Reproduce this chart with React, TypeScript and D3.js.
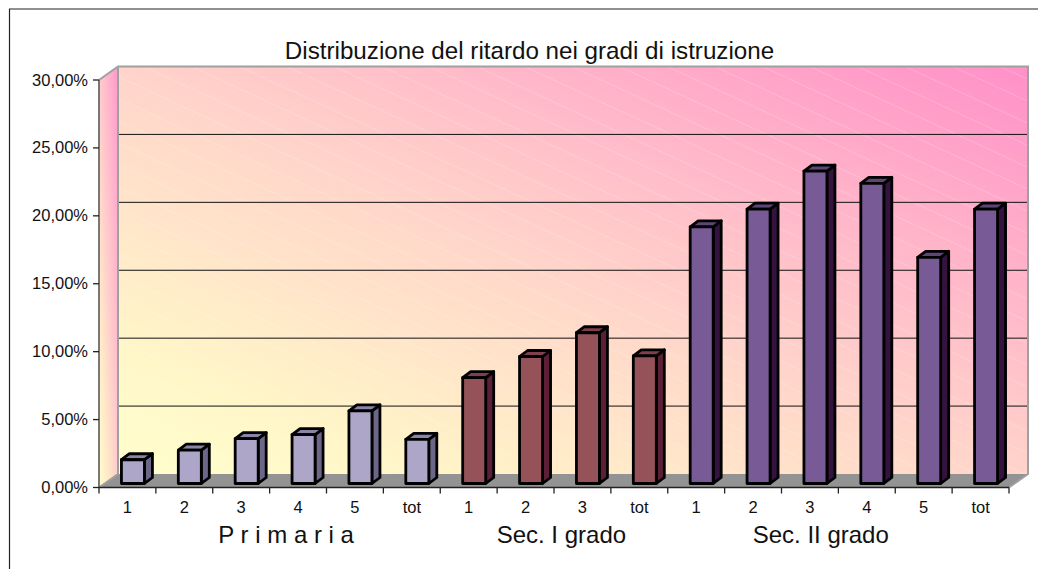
import React from "react";
import * as d3 from "d3";

const categories = ["1","2","3","4","5","tot","1","2","3","tot","1","2","3","4","5","tot"];
const groupIndex = [0,0,0,0,0,0,1,1,1,1,2,2,2,2,2,2];
const values = [1.75,2.45,3.3,3.6,5.35,3.25,7.8,9.35,11.1,9.4,18.9,20.2,23,22.1,16.65,20.2];
const yTicks = [0,5,10,15,20,25,30];
const groupNames = ["P r i m a r i a","Sec. I grado","Sec. II grado"];
const groupCenters = [3.29, 8.13, 12.69];
const title = "Distribuzione del ritardo nei gradi di istruzione";
const frontColors = ["#ADA6C9","#955259","#785A96"];
const topColors = ["#8A84A8","#7F3F4D","#5F4478"];
const sideColors = ["#6C6688","#5C1F36","#35133F"];

const FONT = "'Liberation Sans', Arial, sans-serif";
const left = 99, right = 1009, bottom = 487.5, top = 80;
const dx = 19, dy = 13.5;

const x = d3.scaleBand<number>().domain(d3.range(categories.length)).range([left, right]);
const y = d3.scaleLinear().domain([0, 30]).range([bottom, top]);
const hatch = d3.range(-40, 60).map(i => i * 22);

export default function App() {
  const bw = 23, bdx = 8, bdy = 6;
  const base = y(0) - 4;
  const h = (v: number) => y(0) - y(v);
  const line = d3.line<[number, number]>();
  const wall = { x0: left + dx, x1: right + dx, y0: top - dy, y1: bottom - dy };
  return (
    <svg width={1038} height={569} style={{ position: "absolute", left: 0, top: 0, background: "#fff" }} fontFamily={FONT}>
      <defs>
        <linearGradient id="wallG" x1="0" y1="1" x2="1" y2="0">
          <stop offset="0" stopColor="#FFFFCC" />
          <stop offset="0.16" stopColor="#FFF6C8" />
          <stop offset="0.48" stopColor="#FFD6CA" />
          <stop offset="1" stopColor="#FF90C8" />
        </linearGradient>
        <linearGradient id="sideG" x1="0" y1="1" x2="1" y2="0">
          <stop offset="0" stopColor="#FFFFCC" />
          <stop offset="0.25" stopColor="#FFE8C8" />
          <stop offset="0.5" stopColor="#FFCCCC" />
          <stop offset="1" stopColor="#FF98CB" />
        </linearGradient>
        <clipPath id="wallClip"><rect x={wall.x0} y={wall.y0} width={wall.x1 - wall.x0} height={wall.y1 - wall.y0} /></clipPath>
      </defs>

      <path d={line([[9.5, 569], [9.5, 9], [1038, 9]]) ?? ""} fill="none" stroke="#222" strokeWidth={1.2} />

      <text x={529.5} y={59} textAnchor="middle" fontSize={24.2} fill="#111">{title}</text>

      {/* back wall */}
      <rect x={wall.x0} y={wall.y0} width={wall.x1 - wall.x0} height={wall.y1 - wall.y0} fill="url(#wallG)" />
      <g clipPath="url(#wallClip)" stroke="#fff" strokeOpacity={0.2} strokeWidth={1}>
        {hatch.map(o => <line key={o} x1={0} y1={o} x2={1038} y2={o + 480} />)}
      </g>
      {/* side wall */}
      <path d={line([[left, top], [wall.x0, wall.y0], [wall.x0, wall.y1], [left, bottom]]) + "Z"} fill="url(#sideG)" />
      {/* floor */}
      <path d={line([[left, bottom], [wall.x0, wall.y1], [wall.x1, wall.y1], [right, bottom]]) + "Z"} fill="#939393" />
      {/* wall outline */}
      <path d={line([[left, top], [wall.x0, wall.y0], [wall.x1, wall.y0], [wall.x1, wall.y1], [right, bottom]]) ?? ""} fill="none" stroke="#A0A0A0" strokeWidth={2} />
      <path d={line([[wall.x0, wall.y0], [wall.x0, wall.y1], [left, bottom]]) ?? ""} fill="none" stroke="#A0A0A0" strokeWidth={2} />
      <line x1={left} x2={left} y1={top} y2={bottom} stroke="#6a6a6a" strokeWidth={1.8} />

      {/* gridlines */}
      {yTicks.slice(1, -1).map(t => (
        <line key={t} x1={wall.x0 + 1} x2={wall.x1 - 1} y1={y(t) - dy} y2={y(t) - dy} stroke="#111" strokeWidth={1} />
      ))}

      {/* axes */}
      {yTicks.map(t => (
        <g key={t}>
          <line x1={left - 6} x2={left} y1={y(t)} y2={y(t)} stroke="#222" strokeWidth={1.3} />
          <text x={left - 11} y={y(t) + 5.5} textAnchor="end" fontSize={16.5} fill="#111">{t.toFixed(2).replace(".", ",") + "%"}</text>
        </g>
      ))}
      <line x1={left} x2={right} y1={bottom} y2={bottom} stroke="#222" strokeWidth={1.3} />
      {d3.range(categories.length + 1).map(i => {
        const tx = i === categories.length ? right : (x(i) as number);
        return <line key={i} x1={tx} x2={tx} y1={bottom} y2={bottom + 6} stroke="#222" strokeWidth={1.3} />;
      })}
      {categories.map((c, i) => (
        <text key={i} x={(x(i) as number) + x.bandwidth() / 2} y={512.5} textAnchor="middle" fontSize={16.5} fill="#111">{c}</text>
      ))}
      {groupNames.map((g, i) => (
        <text key={g} x={left + groupCenters[i] * x.step()} y={543} textAnchor="middle" fontSize={24} fill="#111">{g}</text>
      ))}

      {/* bars */}
      {values.map((v, i) => {
        const x0 = (x(i) as number) + x.bandwidth() / 2 - bw / 2 + 5.5;
        const yt = base - h(v);
        const g = groupIndex[i];
        const front = d3.path(); front.rect(x0, yt, bw, h(v));
        const topFace = line([[x0, yt], [x0 + bdx, yt - bdy], [x0 + bw + bdx, yt - bdy], [x0 + bw, yt]]) + "Z";
        const side = line([[x0 + bw, yt], [x0 + bw + bdx, yt - bdy], [x0 + bw + bdx, base - bdy], [x0 + bw, base]]) + "Z";
        return (
          <g key={i} stroke="#000" strokeWidth={2.8} strokeLinejoin="round">
            <path d={side} fill={sideColors[g]} />
            <path d={topFace} fill={topColors[g]} />
            <path d={front.toString()} fill={frontColors[g]} />
          </g>
        );
      })}
    </svg>
  );
}
